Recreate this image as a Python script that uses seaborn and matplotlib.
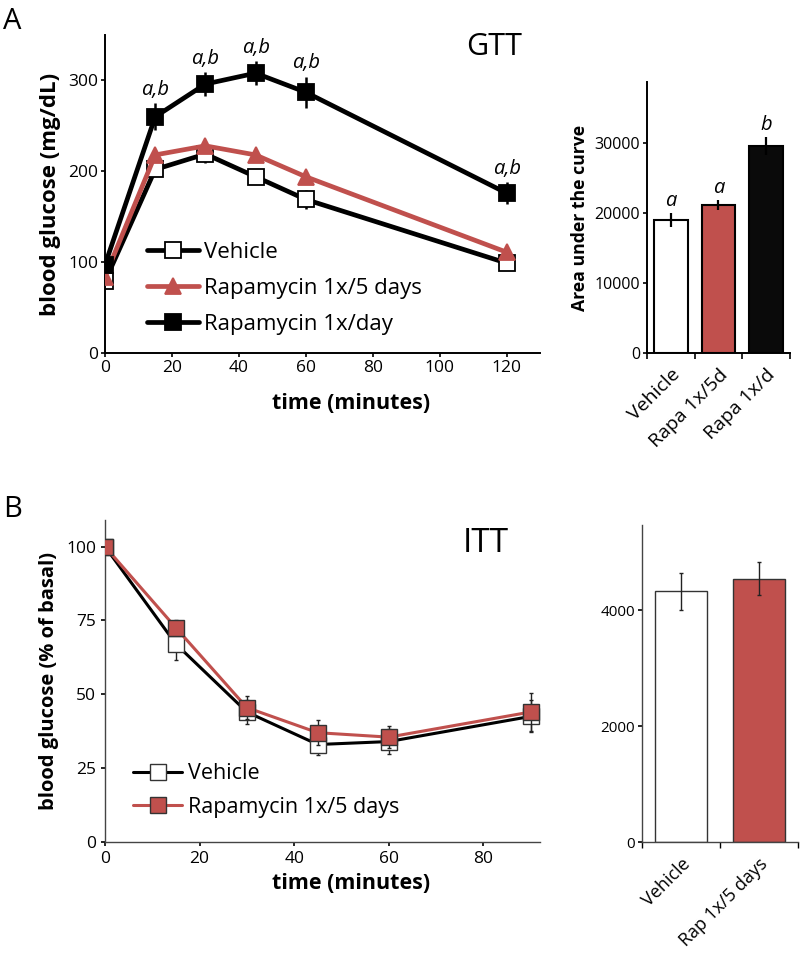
import numpy as np
import pandas as pd
import matplotlib
matplotlib.use("Agg")
import matplotlib.pyplot as plt
import seaborn as sns

# ---- GTT (panel A) ----
gtt_time = [0, 15, 30, 45, 60, 120]
gtt_vehicle = [79, 202, 219, 194, 169, 99]
gtt_vehicle_err = [5, 6, 10, 6, 10, 5]
gtt_rapa5d = [84, 218, 228, 218, 194, 111]
gtt_rapa5d_err = [4, 6, 6, 6, 6, 4]
gtt_rapa1d = [97, 260, 296, 308, 287, 176]
gtt_rapa1d_err = [6, 15, 13, 13, 17, 12]
gtt_sig = ["", "a,b", "a,b", "a,b", "a,b", "a,b"]

auc_groups = ["Vehicle", "Rapa 1x/5d", "Rapa 1x/d"]
auc_values = [19000, 21100, 29600]
auc_err = [1000, 700, 1300]
auc_sig = ["a", "a", "b"]

# ---- ITT (panel B) ----
itt_time = [0, 15, 30, 45, 60, 90]
itt_vehicle = [100, 67, 44, 33, 34, 42.5]
itt_vehicle_err = [0.5, 5.3, 4.2, 3.7, 4.3, 5.4]
itt_rapa5d = [100, 72.5, 45.5, 37, 35.5, 44]
itt_rapa5d_err = [0.5, 2.5, 4, 4.2, 3.8, 6.5]

itt_auc_groups = ["Vehicle", "Rap 1x/5 days"]
itt_auc_values = [4330, 4540]
itt_auc_err = [320, 285]

RED = "#C0504D"
W, H = 803, 955

sns.set_theme(style="ticks")
plt.rcParams["font.family"] = ["Open Sans", "DejaVu Sans"]
plt.rcParams.update({
    "axes.linewidth": 1.4,
    "xtick.major.width": 1.2,
    "ytick.major.width": 1.2,
    "xtick.major.size": 3,
    "ytick.major.size": 3,
    "xtick.color": "black",
    "ytick.color": "black",
    "axes.edgecolor": "black",
    "text.color": "black",
    "axes.labelcolor": "black",
})

fig = plt.figure(figsize=(W / 100, H / 100), dpi=100)


def px_axes(x0, y0, x1, y1):
    # axes from pixel box (top-left origin)
    return fig.add_axes([x0 / W, 1 - y1 / H, (x1 - x0) / W, (y1 - y0) / H])


# ================= Panel A: GTT curve =================
ax1 = px_axes(105, 35, 540, 353)
series_a = [
    ("Vehicle", gtt_vehicle, gtt_vehicle_err, "black", "s", "white"),
    ("Rapamycin 1x/5 days", gtt_rapa5d, gtt_rapa5d_err, RED, "^", RED),
    ("Rapamycin 1x/day", gtt_rapa1d, gtt_rapa1d_err, "black", "s", "black"),
]
for i, (name, vals, err, col, mk, face) in enumerate(series_a):
    ax1.errorbar(gtt_time, vals, yerr=err, fmt="none", ecolor=col,
                 elinewidth=1.8, capsize=0, zorder=2 + i)
    sns.lineplot(x=gtt_time, y=vals, ax=ax1, color=col, linewidth=3.4,
                 marker=mk, markersize=11.5, markerfacecolor=face,
                 markeredgecolor=col if face != "white" else "black",
                 markeredgewidth=1.3, label=name, zorder=2 + i)
for t, v, e, s in zip(gtt_time, gtt_rapa1d, gtt_rapa1d_err, gtt_sig):
    if s:
        ax1.text(t, v + e + 4, s, ha="center", va="bottom",
                 fontsize=14.5, style="italic")
ax1.set_xlim(0, 130)
ax1.set_ylim(0, 350)
ax1.set_xticks([0, 20, 40, 60, 80, 100, 120])
ax1.set_yticks([0, 100, 200, 300])
ax1.set_xlabel("time (minutes)", fontsize=15.5, fontweight="bold")
ax1.xaxis.set_label_coords(0.566, -0.126)
ax1.set_ylabel("blood glucose (mg/dL)", fontsize=16, fontweight="bold", labelpad=5)
sns.despine(ax=ax1)
ax1.tick_params(labelsize=12.5, pad=2)
ax1.legend(loc="upper left", bbox_to_anchor=(0.097, 0.349), frameon=False,
           fontsize=16, handlelength=2.35, handletextpad=0.22,
           labelspacing=0.68, borderaxespad=0, borderpad=0)
ax1.text(522 / W, 1 - 55 / H, "GTT", transform=fig.transFigure, ha="right",
         va="baseline", fontsize=22)

# ================= Panel A: AUC bars =================
ax2 = px_axes(647, 82, 790, 353)
auc_df = pd.DataFrame({"group": auc_groups, "auc": auc_values})
sns.barplot(data=auc_df, x="group", y="auc", hue="group",
            palette=["white", RED, "#0a0a0a"], saturation=1, legend=False,
            width=0.7, edgecolor="black", linewidth=1.5, ax=ax2)
ax2.errorbar(range(len(auc_values)), auc_values, yerr=auc_err, fmt="none",
             ecolor="black", elinewidth=1.6, capsize=0)
for i, (v, e, s) in enumerate(zip(auc_values, auc_err, auc_sig)):
    ax2.text(i, v + e + 300, s, ha="center", va="bottom", fontsize=14.5,
             style="italic")
ax2.set_xlim(-0.5, 2.5)
ax2.set_ylim(0, 38700)
ax2.set_yticks([0, 10000, 20000, 30000])
ax2.set_xticks(range(len(auc_groups)))
ax2.set_xticklabels(auc_groups, rotation=45, ha="right", rotation_mode="anchor")
ax2.tick_params(axis="x", length=0, pad=9, labelsize=14)
ax2.set_xticks([-0.5, 0.5, 1.5, 2.5], minor=True)
ax2.tick_params(axis="x", which="minor", length=4, width=1.2, direction="out")
ax2.tick_params(axis="y", labelsize=11.5, pad=2)
ax2.set_xlabel("")
ax2.set_ylabel("Area under the curve", fontsize=12.7, fontweight="bold", labelpad=4)
sns.despine(ax=ax2)

# ================= Panel B: ITT curve =================
ax3 = px_axes(105, 520, 540, 842)
series_b = [
    ("Vehicle", itt_vehicle, itt_vehicle_err, "black", "white"),
    ("Rapamycin 1x/5 days", itt_rapa5d, itt_rapa5d_err, RED, RED),
]
for i, (name, vals, err, col, face) in enumerate(series_b):
    ax3.errorbar(itt_time, vals, yerr=err, fmt="none", ecolor="#222222",
                 elinewidth=1.0, capsize=1.5, zorder=2 + i)
    sns.lineplot(x=itt_time, y=vals, ax=ax3, color=col, linewidth=2.2,
                 marker="s", markersize=11, markerfacecolor=face,
                 markeredgecolor="#333333", markeredgewidth=1.0,
                 label=name, zorder=2 + i)
ax3.set_xlim(0, 92)
ax3.set_ylim(0, 109)
ax3.set_xticks([0, 20, 40, 60, 80])
ax3.set_yticks([0, 25, 50, 75, 100])
ax3.set_xlabel("time (minutes)", fontsize=15.5, fontweight="bold")
ax3.xaxis.set_label_coords(0.566, -0.096)
ax3.set_ylabel("blood glucose (% of basal)", fontsize=14.5, fontweight="bold",
               labelpad=5)
sns.despine(ax=ax3)
ax3.tick_params(labelsize=12.5, pad=3.5)
for sp in ax3.spines.values():
    sp.set_linewidth(1.0)
    sp.set_color("#444444")
ax3.legend(loc="upper left", bbox_to_anchor=(0.064, 0.245), frameon=False,
           fontsize=15.5, handlelength=2.3, handletextpad=0.28,
           labelspacing=0.6, borderaxespad=0, borderpad=0)
ax3.text(509 / W, 1 - 552 / H, "ITT", transform=fig.transFigure, ha="right",
         va="baseline", fontsize=24)

# ================= Panel B: AUC bars =================
ax4 = px_axes(642, 525, 798, 842)
itt_df = pd.DataFrame({"group": itt_auc_groups, "auc": itt_auc_values})
sns.barplot(data=itt_df, x="group", y="auc", hue="group",
            palette=["white", RED], saturation=1, legend=False, width=0.67,
            edgecolor="#333333", linewidth=1.0, ax=ax4)
ax4.errorbar(range(len(itt_auc_values)), itt_auc_values, yerr=itt_auc_err,
             fmt="none", ecolor="#222222", elinewidth=1.0, capsize=1.5)
ax4.set_xlim(-0.5, 1.5)
ax4.set_ylim(0, 5470)
ax4.set_yticks([0, 2000, 4000])
ax4.set_xticks(range(len(itt_auc_groups)))
ax4.set_xticklabels(itt_auc_groups, rotation=45, ha="right", rotation_mode="anchor")
ax4.tick_params(axis="x", length=0, pad=9, labelsize=13)
ax4.set_xticks([-0.5, 0.5, 1.5], minor=True)
ax4.tick_params(axis="x", which="minor", length=4, width=1.0, direction="out")
ax4.tick_params(axis="y", labelsize=11, pad=2)
ax4.set_xlabel("")
ax4.set_ylabel("")
sns.despine(ax=ax4)
for sp in ax4.spines.values():
    sp.set_linewidth(1.0)
    sp.set_color("#444444")

# panel letters
fig.text(3 / W, 1 - 29 / H, "A", fontsize=21, va="baseline", ha="left")
fig.text(3 / W, 1 - 517 / H, "B", fontsize=21, va="baseline", ha="left")

fig.savefig("out.png", dpi=100, facecolor="white")
